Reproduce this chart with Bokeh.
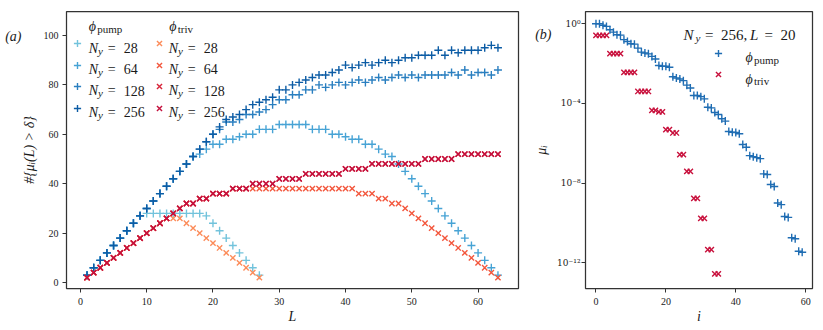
from bokeh.plotting import figure
from bokeh.models import (Range1d, Legend, LegendItem, Label, FixedTicker, CustomJSTickFormatter,
                          LinearAxis, LogAxis)
from bokeh.layouts import row
from bokeh.embed import file_html
from bokeh.resources import INLINE

# ---------------- data: panel (a) ----------------
L_short = list(range(1, 28))
L_long = list(range(1, 64))

pump_28 = [3, 6, 9, 12, 15, 18, 21, 24, 27, 28, 28, 28, 28, 28, 28, 28, 28, 28,
           27, 24, 21, 18, 15, 12, 9, 6, 3]
pump_64 = [3, 6, 9, 12, 15, 18, 21, 24, 27, 30, 33, 36, 39, 42, 45, 48, 51,
           52, 54, 56, 56, 58, 58, 59, 60, 60, 62, 62, 62, 64, 64, 64, 64, 64,
           62, 62, 62, 60, 60, 59, 58, 58, 56, 56, 54, 52, 51, 48, 45, 42, 39,
           36, 33, 30, 27, 24, 21, 18, 15, 12, 9, 6, 3]
pump_128 = [3, 6, 9, 12, 15, 18, 21, 24, 27, 30, 33, 36, 39, 42, 45, 48, 51, 54, 57, 60,
            62, 65, 65, 66, 68, 68, 69, 70, 72, 74, 74, 76, 76, 78, 78, 80, 79, 80,
            81, 80, 81, 82, 81, 82, 83, 82, 83, 84, 83, 84, 83, 84, 84, 84, 84, 85,
            84, 86, 84, 85, 85, 84, 86]
pump_256 = [3, 6, 9, 12, 15, 18, 21, 24, 27, 30, 33, 36, 39, 42, 45, 48, 51, 54, 57, 60, 63,
            66, 67, 68, 70, 72, 73, 74, 75, 78, 78, 80, 81, 82, 83, 84, 84, 85, 86,
            88, 87, 88, 89, 88, 89, 90, 89, 90, 91, 91, 92, 92, 92, 94, 92, 94, 93,
            94, 94, 94, 95, 96, 95]

triv_28 = [2, 4, 6, 8, 10, 12, 14, 16, 18, 20, 22, 24, 26, 26, 26,
           24, 22, 20, 18, 16, 14, 12, 10, 8, 6, 4, 2]
triv_64 = [2, 4, 6, 8, 10, 12, 14, 16, 18, 20, 22, 24, 26, 28, 30, 32, 32, 34, 34,
           36, 36, 36, 38, 38, 38, 38, 38, 38, 38, 38, 38, 38, 38, 38, 38, 38, 38,
           38, 38, 38, 38, 36, 36, 36, 34, 34, 32, 32, 30, 28, 26, 24, 22, 20, 18,
           16, 14, 12, 10, 8, 6, 4, 2]
triv_128 = [2, 4, 6, 8, 10, 12, 14, 16, 18, 20, 22, 24, 26, 28, 30, 32, 32, 34, 34,
            36, 36, 36, 38, 38, 38, 40, 40, 40, 40, 42, 42, 42, 42, 44, 44, 44, 44,
            44, 44, 46, 46, 46, 46, 48, 48, 48, 48, 48, 48, 48, 48, 50, 50, 50, 50,
            50, 52, 52, 52, 52, 52, 52, 52]
triv_256 = [2, 4, 6, 8, 10, 12, 14, 16, 18, 20, 22, 24, 26, 28, 30, 32, 32, 34, 34,
            36, 36, 36, 38, 38, 38, 40, 40, 40, 40, 42, 42, 42, 42, 44, 44, 44, 44,
            44, 44, 46, 46, 46, 46, 48, 48, 48, 48, 48, 48, 48, 48, 50, 50, 50, 50,
            50, 52, 52, 52, 52, 52, 52, 52]

ny_labels = ["28", "64", "128", "256"]
pump_colors = ["#72c3dc", "#47a3d5", "#2a7fc0", "#0c5ca5"]
triv_colors = ["#fc8c5a", "#f3573d", "#d8253a", "#c4103d"]

x_ticks_a = [0, 10, 20, 30, 40, 50, 60]
y_ticks_a = [0, 20, 40, 60, 80, 100]

# ---------------- data: panel (b) ----------------
i_pump = list(range(60))
mu_pump = [1.0, 1.0, 0.85, 0.74, 0.50, 0.38, 0.28, 0.27, 0.16, 0.13,
           0.10, 0.095, 0.060, 0.038, 0.034, 0.031, 0.023, 0.017, 8.1e-3, 7.4e-3,
           7.4e-3, 6.6e-3, 2.2e-3, 1.9e-3, 1.7e-3, 1.4e-3, 8.3e-4, 6.0e-4, 2.5e-4, 2.5e-4,
           2.2e-4, 1.7e-4, 6.5e-5, 6.0e-5, 3.5e-5, 2.8e-5, 1.7e-5, 1.3e-5, 3.9e-6, 3.6e-6,
           3.5e-6, 3.0e-6, 8.7e-7, 6.3e-7, 2.4e-7, 2.1e-7, 1.9e-7, 1.7e-7, 2.9e-8, 2.7e-8,
           8.5e-9, 6.8e-9, 1.0e-9, 8.3e-10, 2.1e-10, 1.9e-10, 1.8e-11, 1.6e-11, 3.8e-12, 3.4e-12]
i_triv = list(range(36))
mu_triv = [0.26, 0.26, 0.26, 0.26, 0.032, 0.032, 0.032, 0.032,
           3.6e-3, 3.6e-3, 3.6e-3, 3.6e-3, 4.0e-4, 4.0e-4, 4.0e-4, 4.0e-4,
           4.5e-5, 4.5e-5, 3.8e-5, 3.8e-5, 4.9e-6, 4.9e-6, 3.3e-6, 3.3e-6,
           2.7e-7, 2.7e-7, 3.9e-8, 3.9e-8, 1.7e-9, 1.7e-9, 1.7e-10, 1.7e-10,
           4.6e-12, 4.6e-12, 2.8e-13, 2.8e-13]
x_ticks_b = [0, 20, 40, 60]
y_ticks_b = [1e0, 1e-4, 1e-8, 1e-12]

FONT = "Liberation Serif, DejaVu Serif, serif"
TXT = "#1a1a1a"
AXC = "#333333"

XR_A = (-2.1, 66.1)
YR_A = (-2.4, 109.7)
XR_B = (-3.0, 61.95)
YR_B_LOG = (-13.29, 0.617)

# page-pixel geometry of the frames (used only to place annotation texts)
FY0, FY1 = 11.0, 288.0
FA0, FA1 = 66.0, 518.0
FB0, FB1 = 585.0, 812.0
FH = FY1 - FY0


def a_xy(px, py):
    x = XR_A[0] + (px - FA0) / (FA1 - FA0) * (XR_A[1] - XR_A[0])
    y = YR_A[1] - (py - FY0) / FH * (YR_A[1] - YR_A[0])
    return x, y


def b_xy(px, py):
    x = XR_B[0] + (px - FB0) / (FB1 - FB0) * (XR_B[1] - XR_B[0])
    ly = YR_B_LOG[1] - (py - FY0) / FH * (YR_B_LOG[1] - YR_B_LOG[0])
    return x, 10 ** ly


def style(p):
    p.grid.visible = False
    p.outline_line_color = AXC
    p.outline_line_width = 1.25
    p.background_fill_color = "white"
    p.border_fill_color = "white"
    for ax in p.axis:
        ax.axis_line_color = None
        ax.major_tick_line_color = AXC
        ax.major_tick_line_width = 1
        ax.major_tick_out = 4
        ax.major_tick_in = 0
        ax.minor_tick_line_color = None
        ax.major_label_text_font = FONT
        ax.major_label_text_font_size = "10px"
        ax.major_label_text_color = TXT
        ax.axis_label_text_font = FONT
        ax.axis_label_text_font_size = "14px"
        ax.axis_label_text_font_style = "italic"
        ax.axis_label_text_color = TXT


def add_text(p, conv, px, py, text, size=14, style_="normal"):
    x, y = conv(px, py)
    p.add_layout(Label(x=x, y=y, text=text, text_font=FONT,
                       text_font_size=f"{size}px", text_font_style=style_,
                       text_color=TXT, text_baseline="alphabetic", text_align="left"))


def panel_tag(p, axis_cls, tick, text, standoff):
    # panel tag "(a)"/"(b)" written as the single label of an extra, line-less left axis
    ax = axis_cls(ticker=FixedTicker(ticks=[tick], minor_ticks=[]),
                  formatter=CustomJSTickFormatter(code="return '%s';" % text))
    ax.axis_line_color = None
    ax.major_tick_line_color = None
    ax.minor_tick_line_color = None
    ax.major_tick_out = 0
    ax.major_tick_in = 0
    ax.major_label_standoff = standoff
    ax.major_label_text_font = FONT
    ax.major_label_text_font_size = "14px"
    ax.major_label_text_font_style = "italic"
    ax.major_label_text_color = TXT
    p.add_layout(ax, "left")


def marker_key(p, renderer, frame_x, center_from_top):
    # one single-item legend per key so that each key sits exactly on its text row
    bottom = FH - center_from_top - 9
    p.add_layout(Legend(items=[LegendItem(label=" ", renderers=[renderer])],
                        location=(frame_x, round(bottom, 1)), orientation="vertical",
                        glyph_width=22, glyph_height=18, label_height=18, label_width=1,
                        spacing=0, padding=0, margin=0, label_standoff=0,
                        label_text_font_size="2px", border_line_color=None,
                        background_fill_alpha=0))


# ---------------- panel (a) ----------------
p1 = figure(width=530, height=330, x_range=Range1d(*XR_A), y_range=Range1d(*YR_A),
            output_backend="svg", toolbar_location=None,
            min_border_left=66, min_border_right=12, min_border_top=11, min_border_bottom=42)
style(p1)
p1.xaxis.ticker = FixedTicker(ticks=x_ticks_a)
p1.yaxis.ticker = FixedTicker(ticks=y_ticks_a)
p1.xaxis.axis_label = "L"
p1.yaxis.axis_label = "#{μᵢ(L) > δ}"
p1.xaxis.major_label_standoff = 5
p1.xaxis.axis_label_standoff = 1
p1.yaxis.major_label_standoff = 4
p1.yaxis.axis_label_standoff = 4

pump_series = [(L_short, pump_28), (L_long, pump_64), (L_long, pump_128), (L_long, pump_256)]
triv_series = [(L_short, triv_28), (L_long, triv_64), (L_long, triv_128), (L_long, triv_256)]

pump_r = []
for (xs, ys), c in zip(pump_series, pump_colors):
    pump_r.append(p1.scatter(xs, ys, marker="cross", size=8, line_width=1.4, color=c))
triv_r = []
for (xs, ys), c in zip(triv_series, triv_colors):
    triv_r.append(p1.scatter(xs, ys, marker="x", size=7.5, line_width=1.4, color=c))

# legend: headers, keys and labels
for nx, sub in [(88.3, "pump"), (168.8, "triv")]:
    add_text(p1, a_xy, nx, 26.3, "ϕ", 14, "italic")
    add_text(p1, a_xy, nx + 8.4, 28.6, sub, 11)
for k, lab in enumerate(ny_labels):
    yb = 47.5 + 21.4 * k
    yc = yb - 4.2 - FY0
    marker_key(p1, pump_r[k], 0, yc)
    marker_key(p1, triv_r[k], 82, yc)
    for nx in (88.3, 168.3):
        add_text(p1, a_xy, nx, yb, "N", 14, "italic")
        add_text(p1, a_xy, nx + 9.3, yb + 2.5, "y", 11, "italic")
        add_text(p1, a_xy, nx + 19.0, yb, "=", 14)
        add_text(p1, a_xy, nx + 35.0, yb, lab, 14)
panel_tag(p1, LinearAxis, a_xy(0, 35.8)[1], "(a)", -3)

# ---------------- panel (b) ----------------
p2 = figure(width=293, height=330, x_range=Range1d(*XR_B),
            y_range=Range1d(10 ** YR_B_LOG[0], 10 ** YR_B_LOG[1]), y_axis_type="log",
            output_backend="svg", toolbar_location=None,
            min_border_left=55, min_border_right=11, min_border_top=11, min_border_bottom=42)
style(p2)
p2.xaxis.ticker = FixedTicker(ticks=x_ticks_b)
p2.yaxis.ticker = FixedTicker(ticks=y_ticks_b)
p2.yaxis.formatter = CustomJSTickFormatter(code="""
const e = Math.round(Math.log10(tick));
const sup = {'-': '\u207b', '0': '\u2070', '1': '\u00b9', '2': '\u00b2', '3': '\u00b3',
             '4': '\u2074', '5': '\u2075', '6': '\u2076', '7': '\u2077', '8': '\u2078', '9': '\u2079'};
return '10' + String(e).split('').map(c => sup[c]).join('');
""")
p2.yaxis.major_label_text_font = "DejaVu Serif, serif"
p2.yaxis.major_label_text_font_size = "9px"
p2.xaxis.axis_label = "i"
p2.yaxis.axis_label = "μᵢ"
p2.xaxis.major_label_standoff = 5
p2.xaxis.axis_label_standoff = 1
p2.yaxis.major_label_standoff = 1
p2.yaxis.axis_label_standoff = 5

rb1 = p2.scatter(i_pump, mu_pump, marker="cross", size=8, line_width=1.4, color="#1f6db3")
rb2 = p2.scatter(i_triv, mu_triv, marker="x", size=7.5, line_width=1.4, color="#c8103c")
marker_key(p2, rb1, 122, 52.7 - FY0)
marker_key(p2, rb2, 122, 74.0 - FY0)

add_text(p2, b_xy, 683.0, 34.5, "N", 15, "italic")
add_text(p2, b_xy, 695.0, 37.0, "y", 11, "italic")
add_text(p2, b_xy, 704.5, 34.5, "=", 15)
add_text(p2, b_xy, 720.4, 34.5, "256,", 15)
add_text(p2, b_xy, 749.6, 34.5, "L", 15, "italic")
add_text(p2, b_xy, 764.0, 34.5, "=", 15)
add_text(p2, b_xy, 780.0, 34.5, "20", 15)
add_text(p2, b_xy, 745.0, 57.3, "ϕ", 14, "italic")
add_text(p2, b_xy, 753.4, 59.3, "pump", 11)
add_text(p2, b_xy, 745.0, 78.7, "ϕ", 14, "italic")
add_text(p2, b_xy, 753.4, 80.5, "triv", 11)
panel_tag(p2, LogAxis, b_xy(0, 34.2)[1], "(b)", -20)

layout = row(p1, p2)
open("out.html", "w", encoding="utf-8").write(file_html(layout, INLINE))
